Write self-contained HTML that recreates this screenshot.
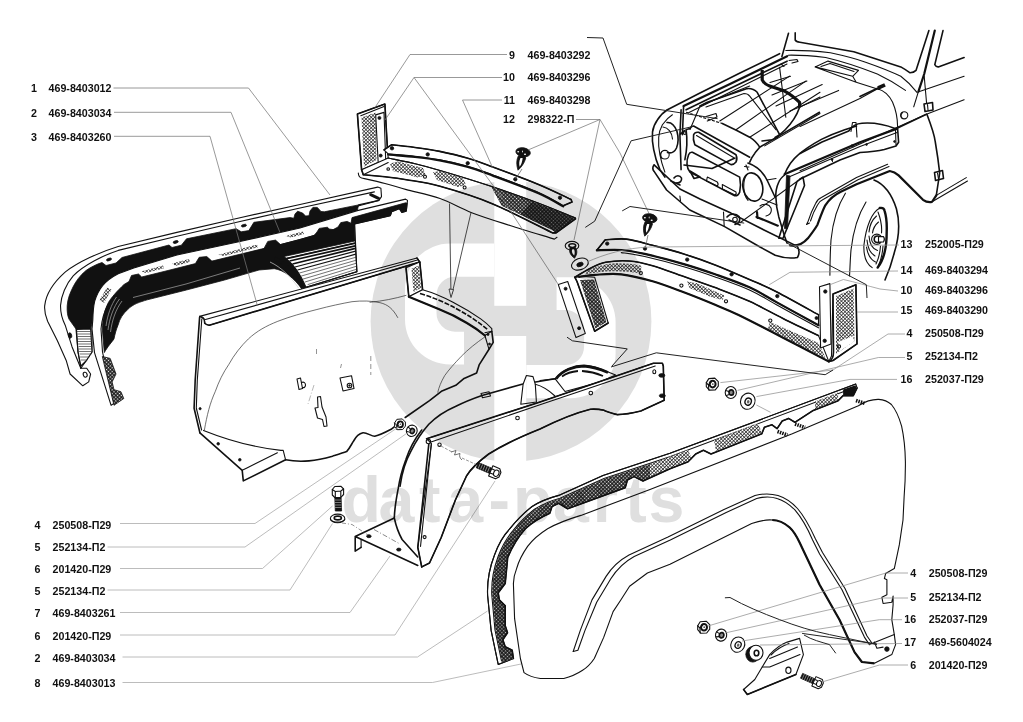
<!DOCTYPE html>
<html lang="ru"><head><meta charset="utf-8"><title>469 — Облицовка радиатора, крылья</title>
<style>
html,body{margin:0;padding:0;background:#fff;}
body{width:1023px;height:722px;overflow:hidden;font-family:"Liberation Sans",sans-serif;}
svg{display:block}
.lb{font-family:"Liberation Sans",sans-serif;font-weight:bold;font-size:10.7px;fill:#111;}
.ld{fill:none;stroke:#909090;stroke-width:0.75;}
.k{fill:none;stroke:#111;stroke-width:1.1;stroke-linejoin:round;stroke-linecap:round;}
.k2{fill:none;stroke:#111;stroke-width:1.6;stroke-linejoin:round;stroke-linecap:round;}
.k3{fill:none;stroke:#111;stroke-width:2.2;stroke-linejoin:round;stroke-linecap:round;}
.t{fill:none;stroke:#333;stroke-width:0.7;stroke-linejoin:round;stroke-linecap:round;}
.f{fill:#111;stroke:#111;stroke-width:0.8;stroke-linejoin:round;}
.w{fill:#fff;stroke:#111;stroke-width:1.1;stroke-linejoin:round;}
.wm{fill:#dfdfdf;}
</style></head><body>
<svg width="1023" height="722" viewBox="0 0 1023 722">
<defs>
<pattern id="mesh" width="2.500" height="2.500" patternUnits="userSpaceOnUse" patternTransform="rotate(45)">
<rect width="2.500" height="2.500" fill="#fff"/><path d="M0 0H2.500M0 0V2.500" stroke="#111" stroke-width="1.250"/></pattern>
<pattern id="meshd" width="2.6" height="2.6" patternUnits="userSpaceOnUse" patternTransform="rotate(45)">
<rect width="2.6" height="2.6" fill="#111"/><rect x="0.700" y="0.700" width="1.350" height="1.350" fill="#fff"/></pattern>
</defs>
<!-- 20_part1.svg -->
<g id="part1">
<!-- outer panel body (white) -->
<path class="w" stroke-width="1.4" d="M377.7 187.1 L380.9 188.3 L381.5 196.6 L378.9 200.4 L358 206 L300 229 L240 243 L176.9 257 L133.8 269 L118.2 275 L102.6 286.5 L94.7 301.2 L92 329 L92 352 L86 361 L80.8 368.2 L86.7 368.2 L90.6 374 L88.7 381.9 L82.8 385.8 L70.1 374 L66.2 360.4 L57.4 340.8 L47.6 321.3 C45 315 44.3 310 44.7 305.6 C46 294 54 282 65.4 271.9 C78 262 100 252 118.2 246.5 L176.9 232.4 L240 217.7 L300 204.5 Z"/>
<path class="k" d="M374.4 191.9 L300 208 L240 221.5 L176.9 236.2 L118.2 250.4 C104 255 84 265 73.2 275.8 C66 284 61 296 60.5 305.6 C60.5 314 62.5 320 65.2 325.2 L72 346.7 L80.8 368.2"/>
<path class="k" d="M378.9 200.4 L358.6 204.9"/>
<!-- first black band -->
<path class="f" d="M358.6 204.9 L324.3 211.8 L321 211.5 L317.3 207.4 L312.9 207.4 L310 211 L309 215.7 L305.5 216 L302.7 213.1 L297.6 211.2 L295 214 L293.8 218.2 L290 217.6 L253.9 222.3 L248.8 230.6 L241.2 231.8 L236.1 228.7 L186.5 238.8 L181.4 245.2 L172 247.5 L169 245 L122 257.5 L116 263 L106 265.5 L102 262.5 C96 264.5 91 267 86 270.5 C80 275.5 76 281 73 287 C70 293 67.6 299 67.2 305.6 C66.8 312 67.8 316.5 69.1 319.3 L76 329 L90.6 329 L92.8 320 C93 313 93.5 306 94.7 301.2 C96.5 295 99 290 102.6 285.6 C107 280.5 112 277 118.2 273.8 L133.8 268 L176.9 255 L240 241.5 L300 228 L357.3 210.6 Z"/>
<!-- slots -->
<ellipse cx="243.9" cy="225.6" rx="2.6" ry="1.2" transform="rotate(-13 243.9 225.6)" class="f"/>
<ellipse cx="175.7" cy="242" rx="2.6" ry="1.2" transform="rotate(-14 175.7 242)" class="f"/>
<ellipse cx="109" cy="259.5" rx="2.6" ry="1.2" transform="rotate(-18 109 259.5)" class="f"/>
<!-- hatch lower-left of band -->
<path class="w" stroke="none" d="M76.5 329.5 L90.6 329 L92 352 L86 361 L80.8 366 L78 352 Z"/>
<path class="t" d="M77 331.5H91M77.5 334H91M78 336.500H91M78 339H91.5M78.5 341.5H91.5M78.5 344H91.5M79 346.500H92M79 349H92M79.5 351.5H92M80 354H91M80.5 357H89M81 360H87"/>
<path class="k" d="M76 329 L78 352 L80.8 368.2"/>
<ellipse cx="70" cy="335.5" rx="1.7" ry="2.7" transform="rotate(-15 70 335.500)" class="f"/>
<ellipse cx="85.2" cy="374.7" rx="1.9" ry="2.5" transform="rotate(-20 85.2 374.7)" class="k"/>
<!-- pin at right end -->
<path d="M370.7 194.7 L378.5 198.3" stroke="#111" stroke-width="3" stroke-linecap="round" fill="none"/>
</g>
<g id="part2top">
<!-- seal strip 2 (white strip w/ mesh) -->
<path class="w" d="M405.6 199.1 L407.500 200.4 L406.3 211.2 L401.8 212.5 L399.3 208.7 L391.700 211.8 L390.4 215.7 L354.8 223.9 L300 239.5 L240 255.3 L176.9 271 L141.7 281 L124 288 C116 294 111 300 108.4 304 C104 312 101.500 322 101 329 L102.500 352 L114 403.4 L111.100 405.3 L94.500 352.6 L92 329 L92.8 320 C93 313 93.500 306 94.700 301.2 C96.500 295 99 290 102.6 285.600 C107 280.500 112 277 118.2 273.8 L133.8 268 L176.9 255 L240 241.500 L300 228 L357.300 210.600 Z"/>
<!-- dark side of right end -->
<path class="f" d="M405.6 202.800 L407.200 203.200 L406.3 211.2 L401.8 212.5 L399.3 208.7 L391.700 211.8 L390.4 215.7 L354.8 223.9 L351 223.300 L352 217.600 Z"/>
<!-- big black region under the strip -->
<path class="f" d="M354.6 223.900 L351 223.300 L347.2 221.400 L340.800 222.600 L338 227 L333.200 229.600 L329 229 L327.500 227.200 L319.200 228.400 L317 232 L314 235.5 L300 239.500 L280.500 244.600 L275.500 240.100 L267.800 241.400 L264 248.400 L211.900 261.100 L206.800 256.600 L199.200 257.300 L195.400 263.600 L170 270 L141.700 277 L138.500 274 L131.500 275.500 L129 281.500 L124 284.5 C117 291 111 298 108.400 302.500 C104 311 102.6 320 102.3 329 L104.3 352.600 C108 346 112 342 114 338.900 C115 334 116 330 118 325.200 C120 318 123 314 127.700 309.500 C133 304 140 302 147.300 299.800 L186.400 290 L224.6 280 L259 270 L274.2 268.7 C284 270 294 278 302.100 289.300 L306 287.300 C300 273 292 262 284 256.500 L355 241 Z"/>
<!-- hatched inner surface -->
<path class="w" stroke="none" d="M286 258.500 L355.300 243 L356.900 271.700 L306 287.300 C300 273 294 265 286 258.500 Z"/>
<path d="M286.500 258.6L355.200 243.200M289.5 261L355.300 245.800M292.5 264L355.4 248.400" fill="none" stroke="#111" stroke-width="1.700"/>
<path d="M295 267L355.600 251.200M297.500 270L355.800 254.200" fill="none" stroke="#111" stroke-width="1.200"/>
<path class="t" d="M299.5 273L356 257.200M301.500 276L356.200 260.200M303.300 279L356.400 263.200M305 282L356.600 266.200M308 284.5L356.700 269.200M330 280L356.800 271.500"/>
<path d="M274.700 258 C286 264 296 275 303 289" fill="none" stroke="#111" stroke-width="2.600"/>
<path d="M270 262 C281 267 291 277 298.500 288" fill="none" stroke="#ccc" stroke-width="0.700"/>
<path class="k" d="M354.600 223.900 L356.900 271.700 L306 287.300 L302.1 289.3"/>
<!-- highlight lines in the black -->
<path d="M122 301 C116 309 112 320 110.500 332M133 297.500 L186 284 L240 268" fill="none" stroke="#aaa" stroke-width="0.700"/><path d="M119.500 299 C113.500 307 109.500 318 108 330 M116.500 297 C111 305 107.500 315 106 326" fill="none" stroke="#999" stroke-width="0.800"/>
<!-- mesh patches on strip -->
<path d="M218.300 254.700 L257 244.600 L258 247.200 L224 256 Z M172 263.5 L189 259 L190 262 L175 266 Z M285.500 236 L303 231.500 L304 234 L291 237.500 Z M141 271.500 L163 265.500 L164 268.200 L146 273 Z M99.500 300 L107 287.500 L111.500 289.500 L104 303 Z" fill="url(#mesh)" stroke="none"/>
<!-- bottom bracket of seal -->
<path stroke="#111" stroke-width="0.800" fill="url(#meshd)" d="M102.300 356.500 L110.200 358.400 L116 374 L112.100 381.900 L114 389.700 L120.900 391.700 L123.800 398.500 L114 405.300 Z"/>
</g>

<!-- 30_part3.svg -->
<g id="part3">
<!-- top flange strip -->
<path class="w" d="M199.6 316.4 L417 258 L419.8 262.1 L209.3 325.2 L204.5 323.5 L204 319 Z"/>
<path class="k2" d="M209.3 325.2 L419.8 262.1"/>
<path class="k" d="M205.5 319.5 L417.5 260"/>
<path class="k" d="M199.600 316.4 C203 316.500 204.500 318.500 204.800 321.500 C205 324 206.500 325.300 209.300 325.200"/>
<!-- left edge -->
<path class="k2" d="M199.6 317.4 L195.200 380 L194.100 408.200 L199.900 432.800"/>
<path class="k" d="M201.800 319 L197.300 380 L196.300 408 L201.600 430"/>
<circle cx="200.100" cy="408.700" r="1.100" class="f"/>
<!-- bottom flange -->
<path class="k2" d="M199.900 432.800 L242.200 470.300 L243.300 480.900 L285.600 459.800"/>
<path class="k" d="M242.200 470.300 L246.900 468 L277.400 452.700 M283.200 450.400 L285.600 459.800 M203.500 430.400 C230 441 255 447.500 280.900 450.400 L283.2 450.4"/>
<circle cx="218.200" cy="443.800" r="1.300" class="f"/><circle cx="239.800" cy="459.800" r="1.300" class="f"/>
<!-- bottom wavy edge -->
<path class="k2" d="M285.600 459.800 C294 461.500 302 461.500 309 460.900 C318 460 326 458 332.500 456.200 C338 454.500 343 453 346.600 451.600 C350 448 351.500 444 353.600 441 C356 436.500 360 433.500 363 432.800 C367 432.500 371 436 374.700 436.300 C380 435 386 432 391.100 429.300 L395.800 425.700"/>
<path class="k2" d="M405.200 417.500 L429.500 400.600 L442 390.900 L455.800 385.300 L464.100 378.400 L476.600 372.900 L479.300 364.600 L489 349.300 L493.200 342.400 L491.800 331.300"/>
<!-- inner arch thin -->
<path class="t" d="M204.400 430 C207 415 210 403 215.200 391.700 C219 381 223 373 228.900 364.300 C234 355 241 346 248.400 338.900 C257 331 266 326 277.800 321.300 C290 316.500 303 313 316.900 309.500 C330 306 342 303.500 352 301.700 C362 300.500 372 300.800 380 302.700 C388 304.500 393 309 397.700 317.500"/>
<path class="t" d="M370 302.300 C383 301 395 298.500 406 295.400"/>
<path class="t" d="M484.900 336.900 C476 343 468 349.500 461.300 356.300 C454 364 449 369.500 444.700 375.600 C441 382 439 387 437.800 392.200"/>
<!-- upright mesh piece at top-right -->
<path class="w" d="M406 267.700 L419.800 262.100 L422.600 289.800 L408.800 296.700 Z"/>
<path d="M411.500 268.500 L419 265.500 L421 288 L413.500 292 Z" fill="url(#mesh)"/>
<path class="k2" d="M406 267.700 L408.800 296.700 M417 258 L419.800 262.100 L422.600 289.800"/>
<!-- curved strip -->
<path class="w" d="M408.800 296.700 L422.600 289.800 C434 293 444 297.500 453 302.300 C464 308 473 313.500 480.700 318.900 C485 322 489 325.500 491.800 328.600 L491.800 331.300 L484.900 335.500 C478 330 472 326 466.900 323 C458 317.500 449 313 439.200 309.200 Z"/>
<path class="k3" d="M408.800 296.700 L439.200 309.200 C449 313 458 317.500 466.900 323 C473 326.500 479 330.500 484.900 335.500"/>
<path d="M420 293.500 C434 297.500 446 303 456 308.500 C468 315 478 321.500 487.500 329.500" fill="none" stroke="#111" stroke-width="1.600" stroke-dasharray="5 1.500"/>
<path class="k" d="M484.900 332.700 L491.800 331.300 M484.900 335.500 L489 349.300"/>
<circle cx="488" cy="334.500" r="1" class="f"/><circle cx="489.500" cy="344" r="1" class="f"/>
<!-- small clips -->
<path class="k" d="M297 379 L300.500 378 L302.500 388.500 L299 389.500 Z M301.500 382.500 C304 381.500 305.500 383 305.500 385 C305.500 387 304 388 302.300 387.500"/>
<path class="k" d="M340 378 L351.500 375.700 L354 388.500 L343 391 Z"/><circle cx="349.500" cy="385.500" r="2.300" class="k"/><circle cx="349.500" cy="385.500" r="0.800" class="f"/>
<path class="k" d="M317.500 397 L320.500 396.500 L322 407 L326 417 L327 426 L324 426.500 L322.500 419.500 L317.500 418 L315 408 L318 407.500 Z"/>
</g>

<!-- 40_trim_top.svg -->
<g id="trimtop">
<!-- second offset outline (thin) -->
<path class="k" d="M358.300 173 C358.500 176 359.500 177.500 361.600 178  C365.5 178.9 377.5 181.6 385.0 183.5 C392.5 185.4 397.2 187.1 406.4 189.6 C415.6 192.1 429.1 194.8 440.0 198.6 C450.9 202.4 460.0 208.2 471.7 212.7 C483.4 217.2 496.2 221.1 510.0 225.5 C523.8 229.9 547.0 236.8 554.4 239.1 L557 237.300"/>
<!-- upright end piece -->
<path class="w" d="M357.400 114 L384.900 104.100 L387.300 146.400 L388.200 158 L361.600 169.700 Z"/>
<path d="M361.500 117.500 L375.500 112.500 L376.500 160 L364 166.500 Z" fill="url(#mesh)"/>
<path class="k2" d="M357.400 114 L384.900 104.100 L387.300 146.400 M357.400 114 L361.600 169.700"/>
<path class="k" d="M360.800 115.700 L384 106.600"/>
<!-- plate 10 -->
<path class="w" d="M375.700 114.900 L384 112.400 L385.700 159.700 L378.200 163 Z"/>
<circle cx="379.400" cy="117.900" r="1.500" class="f"/><circle cx="380.700" cy="155.600" r="1.500" class="f"/>
<!-- lower strip (part 9 main) body -->
<path class="w" d="M361.600 169.700 L388.200 158  C392.7 159.0 406.4 161.7 415.0 163.8 C423.6 165.9 427.3 166.8 440.0 170.5 C452.7 174.2 474.7 180.9 491.0 186.3 C507.3 191.7 523.9 197.7 538.0 203.0 C552.1 208.3 569.2 215.5 575.5 218.0 L575.500 218.900 L556.100 232.900 L552.600 232.900  C542.6 228.1 511.6 211.7 492.8 203.9 C474.0 196.1 454.4 190.3 440.0 186.3 C425.6 182.3 415.6 181.3 406.4 179.7 C397.2 178.1 392.2 177.6 385.0 176.8 C377.8 176.0 366.9 175.0 363.3 174.7 L361.600 169.700 Z"/>
<!-- mesh areas -->
<path d="M389.800 163.500 L398 161.500 L423 168 L426 175.500 L418 177.500 L393 171 Z M433 172.200 L441 170.800 L463 177.500 L466 185 L458 187 L437 180 Z" fill="url(#mesh)"/>
<path d="M491 186.300 L538 203 L575.500 218 L556.100 232.900 L552.600 230.300 L501.600 205.700 Z" fill="url(#meshd)"/>
<path d="M532 202 L575.500 218.400 L556.100 232.900 L552.600 230.300 L520 214.500 Z" fill="#111" opacity="0.550"/>
<path class="k2" d="M361.600 169.700 L363.300 174.700  C366.9 175.0 377.8 176.0 385.0 176.8 C392.2 177.6 397.2 178.1 406.4 179.7 C415.6 181.3 425.6 182.3 440.0 186.3 C454.4 190.3 474.0 196.1 492.8 203.9 C511.6 211.7 542.6 228.1 552.6 232.9 L556.100 232.900 L575.500 218.900"/>
<path class="k" d="M388.200 158  C392.7 159.0 406.4 161.7 415.0 163.8 C423.6 165.9 427.3 166.8 440.0 170.5 C452.7 174.2 474.7 180.9 491.0 186.3 C507.3 191.7 523.9 197.7 538.0 203.0 C552.1 208.3 569.2 215.5 575.5 218.0"/>
<path class="k" d="M363.300 174.700 L388.200 162.500"/>
<circle cx="388.200" cy="169" r="1.300" class="k"/><circle cx="425" cy="176.700" r="1.500" class="k"/><circle cx="464.600" cy="187.500" r="1.500" class="k"/>
<!-- upper strip (part 11) -->
<path class="w" d="M384 149.800 L391.500 144.800  C395.4 145.2 407.0 146.4 415.0 147.5 C423.0 148.6 431.0 149.7 439.7 151.4 C448.4 153.2 458.1 155.4 467.0 158.0 C475.9 160.6 480.9 162.6 492.8 167.0 C504.7 171.4 525.5 179.1 538.5 184.5 C551.5 189.9 565.7 197.0 571.1 199.5 L572 202.100 L563.200 205.700  C559.1 203.5 550.2 197.6 538.5 192.5 C526.8 187.4 504.7 179.3 492.8 174.9 C480.9 170.5 475.9 168.5 467.0 166.0 C458.1 163.5 448.4 161.3 439.7 159.7 C431.0 158.1 423.6 157.3 415.0 156.3 C406.4 155.3 392.7 154.3 388.2 153.9 Z"/>
<path class="k3" d="M388.200 154.500  C392.7 155.0 406.4 156.0 415.0 157.0 C423.6 158.0 431.0 158.8 439.7 160.4 C448.4 162.0 458.1 164.2 467.0 166.7 C475.9 169.2 480.9 171.2 492.8 175.6 C504.7 180.0 526.8 188.1 538.5 193.2 C550.2 198.3 559.1 204.2 563.2 206.4"/>
<path class="k2" d="M384 149.800 L391.500 144.800  C395.4 145.2 407.0 146.4 415.0 147.5 C423.0 148.6 431.0 149.7 439.7 151.4 C448.4 153.2 458.1 155.4 467.0 158.0 C475.9 160.6 480.9 162.6 492.8 167.0 C504.7 171.4 525.5 179.1 538.5 184.5 C551.5 189.9 565.7 197.0 571.1 199.5 L572 202.100 L563.200 205.700"/>
<circle cx="392" cy="148.300" r="1.700" class="f"/><circle cx="427.700" cy="154.400" r="1.700" class="f"/><circle cx="467.700" cy="163.200" r="1.700" class="f"/><circle cx="515.300" cy="179.300" r="1.700" class="f"/><circle cx="560" cy="197.700" r="1.700" class="f"/>
<!-- clip 12 (top) -->
<g id="clipA"><ellipse cx="523.100" cy="152.300" rx="7.300" ry="4.500" transform="rotate(10 523.100 152.300)" class="f"/><ellipse cx="518.200" cy="151.800" rx="1" ry="0.800" fill="#fff"/><ellipse cx="525" cy="154.200" rx="1.100" ry="0.700" fill="#fff"/><ellipse cx="522.500" cy="151.500" rx="0.500" ry="1" fill="#ddd"/>
<path d="M518.300 156 C516.300 160 516.300 165 518 170.200 C521.500 167 524.500 163 525.800 158 L524.500 156 Z" class="f"/><path d="M520.500 158 C519 161 519 164 519.600 166.800 C521.300 164.500 522.500 161 522.600 158 Z" fill="#fff"/></g>
</g>

<!-- 45_trim_right.svg -->
<g id="trimright">
<!-- left mesh leg of 15 -->
<path class="w" d="M574.900 277.300 L579.100 276.300 L594.700 277.300 L608.200 323 L594.700 331.300 L577 281.500 Z"/>
<path d="M580 280 L594 279.500 L606.500 322 L595.500 328.500 Z" fill="url(#meshd)"/>
<path class="k2" d="M574.900 277.300 L577 281.500 L594.700 331.300 L608.200 323"/>
<!-- front face of 15 -->
<path class="w" d="M574.9 277.3 C577.4 275.8 584.9 271.0 590.0 268.5 C595.1 266.0 599.1 263.6 605.6 262.3 C612.1 261.1 621.3 260.4 629.1 261.0 C636.9 261.6 643.5 263.1 652.6 265.7 C661.7 268.3 673.4 273.0 683.8 276.6 C694.2 280.2 704.1 283.4 715.1 287.6 C726.1 291.8 738.7 296.5 750.0 301.6 C761.3 306.8 771.6 312.8 783.0 318.5 C794.4 324.2 812.6 332.8 818.5 335.6 L828.9 361.6 C821.3 357.6 798.1 345.5 783.1 337.7 C768.1 329.9 749.9 320.5 738.6 315.0 C727.3 309.5 724.2 308.6 715.1 304.8 C706.0 301.0 694.2 296.2 683.8 292.3 C673.4 288.4 663.0 284.3 652.6 281.3 C642.2 278.3 630.9 275.4 621.3 274.3 C611.7 273.2 602.0 274.4 595.0 274.8 C588.0 275.2 581.8 276.5 579.1 276.8 Z"/>
<path d="M588 270.500 C596 266.500 604 264.300 612.400 263.500 C622 263 632 263.800 641.500 265.700 L640.500 273.500 C631 271.800 621 271 612.400 271.200 C604 271.500 594 272.500 585 274.300 Z" fill="url(#mesh)"/>
<path d="M687 281.500 L697 283.200 L724.600 295.500 L722.500 300 L711 297 L689.500 288 Z" fill="url(#mesh)"/>
<path d="M770 322 L818.500 343 L826 359 L783.100 336.700 L768 328.500 Z" fill="url(#mesh)"/>
<path class="k3" d="M579.1 276.8 C581.8 276.5 588.0 275.2 595.0 274.8 C602.0 274.4 611.7 273.2 621.3 274.3 C630.9 275.4 642.2 278.3 652.6 281.3 C663.0 284.3 673.4 288.4 683.8 292.3 C694.2 296.2 706.0 301.0 715.1 304.8 C724.2 308.6 727.3 309.5 738.6 315.0 C749.9 320.5 768.1 329.9 783.1 337.7 C798.1 345.5 821.3 357.6 828.9 361.6"/>
<path class="k2" d="M574.9 277.3 C577.4 275.8 584.9 271.0 590.0 268.5 C595.1 266.0 599.1 263.6 605.6 262.3 C612.1 261.1 621.3 260.4 629.1 261.0 C636.9 261.6 643.5 263.1 652.6 265.7 C661.7 268.3 673.4 273.0 683.8 276.6 C694.2 280.2 704.1 283.4 715.1 287.6 C726.1 291.8 738.7 296.5 750.0 301.6 C761.3 306.8 771.6 312.8 783.0 318.5 C794.4 324.2 812.6 332.8 818.5 335.6"/>
<circle cx="640.800" cy="273.100" r="1.600" class="k"/><circle cx="681.400" cy="285.600" r="1.600" class="k"/><circle cx="726" cy="301.300" r="1.600" class="k"/><circle cx="770.300" cy="320.600" r="1.600" class="k"/>
<!-- upper strip 14 -->
<path class="w" d="M605.1 239.9 C608.6 239.8 618.1 238.2 626.0 239.1 C633.9 240.0 643.0 242.8 652.6 245.3 C662.2 247.8 673.4 250.6 683.8 253.9 C694.2 257.2 704.1 260.6 715.1 264.9 C726.1 269.2 739.7 275.2 750.0 279.7 C760.3 284.2 765.5 286.1 776.9 292.0 C788.3 297.9 811.6 311.0 818.5 314.8 L818.5 325.2 C811.6 321.4 788.3 308.7 776.9 302.4 C765.5 296.1 760.3 292.3 750.0 287.6 C739.7 282.9 726.1 278.2 715.1 274.3 C704.1 270.4 695.5 267.5 683.8 264.1 C672.1 260.7 655.1 256.2 644.7 253.9 C634.3 251.6 629.3 250.6 621.3 250.0 C613.3 249.4 600.9 250.2 596.8 250.3 Z"/>
<path class="k3" d="M596.8 250.3 C600.9 250.2 613.3 249.4 621.3 250.0 C629.3 250.6 634.3 251.6 644.7 253.9 C655.1 256.2 672.1 260.7 683.8 264.1 C695.5 267.5 704.1 270.4 715.1 274.3 C726.1 278.2 739.7 282.9 750.0 287.6 C760.3 292.3 765.5 296.1 776.9 302.4 C788.3 308.7 811.6 321.4 818.5 325.2"/>
<path class="k2" d="M596.800 250.300 L605.100 239.900 L605.1 239.9 C608.6 239.8 618.1 238.2 626.0 239.1 C633.9 240.0 643.0 242.8 652.6 245.3 C662.2 247.8 673.4 250.6 683.8 253.9 C694.2 257.2 704.1 260.6 715.1 264.9 C726.1 269.2 739.7 275.2 750.0 279.7 C760.3 284.2 765.5 286.1 776.9 292.0 C788.3 297.9 811.6 311.0 818.5 314.8"/>
<path class="k" d="M621.3 252.6 C625.2 253.2 634.3 254.1 644.7 256.5 C655.1 258.9 672.1 263.3 683.8 266.7 C695.5 270.1 704.1 273.0 715.1 276.9 C726.1 280.8 739.7 285.5 750.0 290.2 C760.3 294.9 765.5 298.7 776.9 305.0 C788.3 311.3 811.6 324.0 818.5 327.8"/>
<circle cx="607.200" cy="243.600" r="1.700" class="f"/><circle cx="645" cy="248.600" r="1.700" class="f"/><circle cx="687.200" cy="259.600" r="1.700" class="f"/><circle cx="731.600" cy="274.300" r="1.700" class="f"/><circle cx="777.300" cy="296.100" r="1.700" class="f"/><circle cx="816.500" cy="318" r="1.500" class="f"/>
<!-- right mesh leg -->
<path class="w" d="M833 294 L855.900 284.700 L857 343.900 L833 360.500 L828.900 361.600 L831.500 356 Z"/>
<path d="M836 296 L853.500 288.500 L854.500 341 L836 354 Z" fill="url(#mesh)"/>
<path d="M838 342 L853 336 L854 341.500 L840 351 Z" fill="#fff"/>
<path class="k2" d="M833 294 L855.900 284.700 L857 343.900 L833 360.500 L828.900 361.600 M833 294 L833.500 352 C833.500 357 832 360 828.900 361.600"/>
<circle cx="839" cy="346.500" r="1.600" class="k"/>
<!-- right plate 10 -->
<path class="w" stroke-width="1.600" d="M819.500 286.800 L829.900 283.600 L831 343.900 L820.600 348 Z"/>
<circle cx="825.300" cy="291.500" r="1.700" class="f"/><circle cx="824.700" cy="340.800" r="1.700" class="f"/>
<!-- left plate 10 -->
<path class="w" stroke-width="1.600" d="M558.300 284.600 L567.700 281.500 L585.300 333.400 L576 337.600 Z"/>
<circle cx="565.600" cy="288.700" r="1.500" class="f"/><circle cx="579.100" cy="328.200" r="1.500" class="f"/>
<!-- clip (top of strip 14) -->
<g transform="translate(126.700 66)"><ellipse cx="523.100" cy="152.300" rx="7.300" ry="4.500" transform="rotate(10 523.100 152.300)" class="f"/><ellipse cx="518.200" cy="151.800" rx="1" ry="0.800" fill="#fff"/><ellipse cx="525" cy="154.200" rx="1.100" ry="0.700" fill="#fff"/><ellipse cx="522.500" cy="151.500" rx="0.500" ry="1" fill="#ddd"/>
<path d="M518.300 156 C516.300 160 516.300 165 518 170.200 C521.500 167 524.500 163 525.800 158 L524.500 156 Z" class="f"/><path d="M520.500 158 C519 161 519 164 519.600 166.800 C521.300 164.500 522.500 161 522.600 158 Z" fill="#fff"/></g>
<!-- small clip + washer at left -->
<ellipse cx="572" cy="245.800" rx="6.800" ry="4.400" class="w" stroke-width="1.800"/><ellipse cx="572.300" cy="245.600" rx="3.400" ry="1.900" class="k2"/>
<path class="f" d="M570 248 C568.800 251.500 570.200 255 574.500 258.200 C577.300 254.500 577.500 250.500 575.500 247.500 Z"/><path d="M572 249.500 C571.500 252 572.500 254 574.200 255.500 C575 253 574.800 251 574 249.200 Z" fill="#fff"/>
<ellipse cx="579.900" cy="264.100" rx="8.700" ry="5.600" transform="rotate(-20 579.900 264.100)" class="w" stroke-width="1.700"/><ellipse cx="580" cy="264.500" rx="3.300" ry="2" transform="rotate(-20 580 264.500)" class="f"/>
</g>

<!-- 50_car.svg -->
<g id="car">
<!-- windshield / cowl -->
<path class="k2" d="M788.500 33.300 L781.900 56.600 M795.200 32.900 L795.200 40 C796 41.500 797.500 42 799.900 42.300 L853.800 51.700 L900.800 66.900 C904.500 69 907.500 71 910.100 72.800 C912.500 72.800 914.500 72 916 70.400 L928.900 30.600"/>
<path class="k3" d="M934.800 30.600 L924.200 74 L918.400 91.600"/>
<path class="k2" d="M943 30.600 L934.800 64.600 C935.800 66.500 937 67 938.300 66.900 L964.100 57.500"/>
<path class="k" d="M785.800 50.500 C800 50 815 51 830.400 52.800 C843 55.500 855 58.500 865.600 62.200 C878 66.500 890 71 900.800 76.300 C907 81 912.500 86.500 917.200 92.700 M788.200 55.200 C800 55 813 56 825.700 57.500 C845 62 862 68 877.300 74 C888 79 897 84.500 905.500 90.400"/>
<path class="k" d="M919.500 91.600 L964.100 76.300 M918.400 91.600 L913.700 106.800 M924.200 76.300 L926.600 103.300"/>
<!-- cowl vent -->
<path class="k" d="M815.100 66.900 L828 61.100 L858.500 70.400 L852.700 76.300 Z M821 66.500 L830 63.500 L854 71.500 M852.700 76.300 L856.200 82.200 M815.100 66.900 L856.200 82.200 L879 89.500"/>
<!-- hood stay -->
<path class="k2" d="M859.900 96.500 L879 87.500"/><path d="M878 88 L885 84.800" stroke="#111" stroke-width="3.600" fill="none"/>
<!-- left fender top / hood left edge -->
<path class="k3" d="M683.600 106 L730 84 L787.100 56.200"/>
<path class="k2" d="M686.100 109.800 L730 88.500 L787.100 61.200 M667.400 109.800 L700 93 L740 73 L779.600 53.700"/>
<path class="k" d="M689 112.500 L787 64"/>
<!-- prop / thick black seal line -->
<path d="M762.200 69.900 L762.200 79.900 C764 83.500 766.500 85 769.600 86.100 L784.600 91.100 C790 94 795 98 799.600 102.300 L799.600 107.300" fill="none" stroke="#111" stroke-width="3.200" stroke-linejoin="round"/>
<path class="k" d="M781 64 L784 66.500 M789 60.500 L797 59.500 L798 61.500 L792 63"/>
<!-- engine bay hatch lines -->
<path class="k" d="M719.800 121 L789.600 76.100 M736 129.700 L805.800 81.100 M749.700 137.200 L820 92.300 M702.300 104.800 L749.700 86.100 M799.600 107.300 L820 97 M764.700 145.900 L820 113.500"/>
<path class="k" d="M779.600 67.400 L785.800 117.300 M770 82.500 L790.500 76.300 M772 95 L806.900 81 M776 106 L822.200 84.500 M790 111 L838.600 90.400"/>
<!-- inner hood panel -->
<path class="k2" d="M700 106 L707.300 102.300 L747.200 88.600 C751 88.300 754.500 89.500 757.200 92.300 L779.600 134.700 C778 137.500 775.500 139 772.100 139.700 L762 141"/>
<path class="k" d="M706 107 L744 93.500 C747 93.500 748.500 94.500 749.700 96.100 L775.900 129.700 M690 129.500 L700 106"/>
<!-- hood right lower edge -->
<path class="k2" d="M799.600 107.300 C797 115 792 123 785 130 C782 133 779 135.500 775 137.500"/>
<!-- hood front lip -->
<path class="k2" d="M683.600 106 L682.400 134.700 M722.300 123.500 C732 128 741 132.500 749.700 137.200 C754 140 757.500 143.500 759.700 147.200 C758 149.500 756 151.500 754.700 153.400 C752.500 156 751 159 749.700 162.100 M759.700 147.200 L819.500 112.300"/>
<path d="M686.100 112.300 L722.300 123.500" fill="none" stroke="#111" stroke-width="1.200" stroke-dasharray="3 1.500"/>
<path class="k" d="M706 116.500 L716 113.500 L717 117 L711 119.500 M707.300 121 L716 117.500"/>
<!-- front face outlines -->
<path class="k2" d="M667.400 109.800 C663 112.500 660 116 657.500 119.800 C654.500 124 653 128 652.500 132.200 C652 138 652.500 144 653.700 149.700 C655 157 657 163 659.900 169.600 L664.900 177.100"/>
<path class="k" d="M672.400 114.800 C668 117.500 665 121 662.400 124.700 C660 129 659 133 658.700 137.200 C658.300 143 658.700 149 659.900 154.700 C661 161 663 167 664.900 172.100"/>
<!-- left headlight -->
<path class="k2" d="M667 122.500 C671.500 122 675 126 677 131.500 C678.500 137 678.500 143 676.500 148 C674.500 152 671 153.500 667.500 152.500"/>
<path class="k" d="M663 127 C668 127.500 672 132 672.500 139"/>
<circle cx="664.900" cy="154.700" r="4.300" class="k"/><path class="k" d="M662 151.500 C660.300 153.500 660.300 156.500 662 158.500"/>
<!-- pillars between lamp and grille -->
<path class="k2" d="M681.100 109.800 L679.900 134.700 L681.100 169.600 M686.100 129.700 C687.500 140 687 150 684.900 159.700 M679.900 134.700 L684.500 130.500 M686.100 129.700 L689.900 128.500"/>
<circle cx="684.800" cy="133" r="1.400" class="k"/>
<!-- grille -->
<path class="k2" d="M689.900 128.500 C691 126.500 692.300 126 693.600 126 L749.700 157.200"/>
<path class="k2" d="M693.600 134.700 C694.500 132.500 696.500 132 698.600 132.300 L736 154.700 C737 157 737 160 736 162.100 C734.500 164 733 164.800 731 164.600 L694.800 144.700 C693.500 141.500 693 138 693.600 134.700 Z"/>
<path class="k" d="M696.500 135.500 L733.500 157.500"/>
<path class="k2" d="M688.600 154.700 C689.500 152.500 691 152 692.400 152.300 L739.700 177.100 C740.700 182 740.700 187 739.700 192.100 C738.500 195 737 196 734.700 195.800 L689.900 172.100 C686.500 168 686 161 688.600 154.700 Z"/>
<path class="k" d="M707.300 177.100 L717.300 182.100 C718.300 183.500 718.300 185 717.300 186 L706.500 181 Z M722.300 184.600 L736 192.100 C736.500 193.500 736 194.500 735 195 L722.500 189 Z"/>
<!-- tow hook / latch -->
<path class="k2" d="M674 178 C676 175 680 175 681.500 178 C682 181 680 183 677 183 M671 181 L680 185 M690 171 L700 177 L694 178.500 Z M684 165 L712 168.500 L735 158"/>
<!-- right headlight -->
<ellipse cx="752.800" cy="187" rx="9.800" ry="14.300" transform="rotate(-12 752.800 187)" class="k2"/>
<path class="k" d="M747 174.500 C742.500 180 742.500 194 748 200.500"/>
<path class="k" d="M746 165 L748 170 M744.500 166.500 L749 167"/>
<!-- face right contour -->
<path class="k2" d="M748 163.100 C756 166 763 172 767 180 L775 197"/>
<path class="k" d="M767 180 L776 178.500"/>
<!-- bumper -->
<path class="k2" d="M654.100 164.800 C652.500 167 652.500 169.500 654.100 171.400 L666.600 190 L689.800 210 L724.200 226.400 L760 247 L775.200 255.300 C783 258 791 258.500 797.400 257.500 C799.500 254 799.500 250 797.400 246.400 M654.100 164.800 L679.900 189 L700 199 L730.900 213.100 L764 230 L797.400 246.400"/>
<path class="k" d="M679.900 196 L680.500 201 M723.500 212 L724.200 226.400"/>
<path class="k2" d="M727 217 C730 213 736 213 739 216.500 C741 220 739 224 735 224.500 M729 220 L740 225"/><circle cx="735" cy="219.500" r="2.300" class="k"/>
<!-- right fender -->
<path class="k2" d="M784.600 174.300 C788 166 792 160 798.200 154.900 C805 149 813 144 821.400 139.400 C830 135 838 132 844.700 129.700 L856.500 126"/>
<path class="k3" d="M784.600 174.300 L860 142.300 L896.400 128.900"/>
<path class="k" d="M790 176.500 L860 146.500 L897 132.500"/>
<path class="k2" d="M784.600 175 C781 178 779.500 180 778.800 182 C776.500 187 775.500 192 775.900 197.500 C776 204 777 210 778.800 216.900 L784.600 236.300 L787 243"/>
<!-- dark narrow wedge (callout) -->
<path class="f" d="M786.500 175.300 L790 176 L787.500 228.600 L784.500 228.600 Z"/>
<path class="k2" d="M803 177.200 L804.500 185.500 L783 238.300 L778.800 238.300 L797 181.500 Z M797 181.500 L803 177.200"/>
<path class="k" d="M740 222.800 L796.200 182"/>
<!-- block under right headlamp -->
<path class="k3" d="M756.500 216.900 L777.800 225.700 M757 212 L757.500 218"/>
<path class="k" d="M760 206 C764 203 769 204 771 208 C772 212 770 215 766 216 M762 199 L777 205"/>
<!-- fender arch -->
<path class="k3" d="M790 245.500 C797 246.500 803 244 807.900 238.300 C812 233 815 229 817.500 224.700 C820 218 822 212 825.300 205.300 C829 199.500 834 195 840.800 191.700 L856.500 184.300 L889.800 171 C893 171.500 896 173 898.600 175.400 L923 199.800 C926 202 929 202.500 931.900 202 L936.300 195.400"/>
<path class="k" d="M810.500 221 C812.500 214.500 814.500 210 817.500 205 C819 202 821 200.300 823.500 199.300 L858 179.800 L889 166.500 M807.900 221.800 C810 215 812.500 209 815.600 203.400 C817 200.500 819 198.500 821.400 197.500 L856.500 177.600 L887.600 164.300 M807.900 221.800 L806.500 224.500 L809.500 223"/>
<path class="k" d="M936.300 195.400 L966.300 177.600 M932.500 201.500 L967.500 181"/>
<!-- inner fender seen in bay -->
<path class="k2" d="M800 153.500 L822 142 L848.700 131 C852 126 856 123.500 862 123.200 C872 122.500 884 124 895 128.600 L897.600 128.600 L898.600 142.200 L896 146 L884.300 149.500 C876 151.500 868 152 860 152.500 L840 160 L800 179"/>
<path class="k" d="M851 131.500 L852.500 122.500 L856 122.500 L857 137 M852 144.500 L853 147 M832 159 L832.500 161.500 M895.500 130 L896 145"/>
<circle cx="894.500" cy="141.500" r="0.900" class="f"/><circle cx="866.500" cy="144.500" r="0.900" class="f"/><circle cx="832" cy="159.500" r="0.900" class="f"/>
<!-- body side lines -->
<path class="k" d="M800 126.400 L859.900 98.500 L877.600 88.700 C884 90.500 889 95 892.500 102 C896 110 897.500 119 897.600 126.400"/>
<path class="k" d="M800 170.800 L926.400 114.200 L964.100 99.800"/>
<path class="k2" d="M926.400 114.200 L897.600 128"/>
<circle cx="904.200" cy="115.300" r="3.600" class="k"/><path class="k" d="M902.500 112.500 C900.500 114.500 900.500 117 902.500 118.500"/>
<path class="k2" d="M924 104 L932.500 102.500 L933 110 L925 111.500 Z"/><path class="k" d="M927.500 104.500 L928 110"/>
<path class="k2" d="M927 114.500 C931 125 934.500 135 935.300 142 C937 152 938.500 162 939.700 173 L936.300 195.400"/>
<path class="k2" d="M934.500 172.500 L942.500 170.500 L943.500 178.500 L935.500 180.500 Z"/><path class="k" d="M937.500 173 L938.500 179"/>
<!-- wheel -->
<path class="k2" d="M874 180 C884 184 892 195 896.400 208.700 C900 222 899 238 894.200 253 C892 262 889 271 885 280"/>
<path class="k" d="M845.400 193.200 C838 205 833 220 831 240 C830 255 830 265 829.900 275.200 M866 202 C858 215 853 232 851 250 C850 262 850 270 849.500 276"/>
<path class="k" d="M879.800 208 C872 212 866 226 863.900 245.400 C863.500 256 866.500 264 872.200 267.600"/>
<path d="M879.800 208 C883 207.500 884.300 209 884.600 210.800 C886.500 217 887 224 886.700 231.600 C886.700 240 886 247 884.600 252.300 C883 259 880.500 264 877.700 267.600" fill="none" stroke="#111" stroke-width="2.400" stroke-linecap="round"/>
<path class="k" d="M878 212 C881 220 882 228 881.500 233 M876.500 216 C872 220 869.500 226 869 232 M878.500 222 C875 225 873 229 872.500 233 M867 240 C867.500 247 870 253 875 256 M866.500 247 C867.500 254 870.500 259.500 875.500 262 M869 236 C869.500 243 872.500 249 877.500 250.500 M880.500 246 C880 253 878.500 259 876 264 M883 246 C882.500 254 881 260 878.500 265.500"/>
<circle cx="876.800" cy="239.300" r="5.200" class="k"/><circle cx="877.500" cy="239.300" r="3.300" class="k2"/>
<path class="w" stroke-width="1.400" d="M878.500 236.600 L883.500 236.600 C884.500 238 884.500 240.500 883.500 242 L878.500 242 Z"/>
</g>

<!-- 60_part7.svg -->
<g id="part7">
<!-- back panel curve (upper-left) -->
<path class="k2" d="M400 486.300 C402 472 406 460 411.100 450.900 C416 441 422 432 428.800 424.300 C436 417 445 411 455.400 406.500 C464 402 473 398.500 482 395.400 L522 384.300 L555.200 378.800"/>
<path class="k" d="M481 393.500 L489 391.800 L490.500 396 L482.500 397.800 Z"/>
<!-- upright tab -->
<path class="w" d="M520.800 404.300 L523.100 384.300 L526.400 375.500 L533 376.600 L535.300 384.300 L536.400 402 Z"/>
<path class="k" d="M535.300 384.300 C542 386 549 390.500 555 396"/>
<!-- hump -->
<path class="w" d="M555.200 378.800 C559 374 563 371 568.500 368.800 C574 366.500 580 365.500 584 365.500 C590 365.500 595 367 600 368.800 L615.600 375 L600 382.100 L565 391.500 Z"/>
<path d="M556.200 378.600 C560 373.500 563 371.500 568.500 369.200 C574 367 580 366 584 366 C592 366.500 600 369 608 372.500" fill="none" stroke="#111" stroke-width="2.800"/>
<path d="M562 376.500 C566 373.500 572 371.500 578 371 M582 371 C590 371.500 597 373.500 603 376" fill="none" stroke="#111" stroke-width="1.800"/>
<path class="k" d="M540 380.500 L556.200 378.600"/>
<!-- top long bar + right plate -->
<path class="w" d="M426.600 438.700 L540 402 L653.400 363.300 L662.400 363.300 L663.300 366 L664.200 400.200 L640.800 411 C633 413 625 414.500 617.400 414.600 C612 413.500 607 411.500 603 410.100 C599 409 595 409 590.400 409.200 C575 413 558 420 540 429 C520 437 503 445 488.700 454 C478 462 470 470 466.500 476 L455.400 500 L441.200 537.500 L429.500 563 L421.700 566.900 L417.800 547.300 L431.400 443.700 Z"/>
<path class="k2" d="M426.600 438.700 L540 402 L653.400 363.300 L662.400 363.300 L663.300 366 L664.200 400.200 L640.800 411 C633 413 625 414.500 617.400 414.600 C612 413.500 607 411.500 603 410.100 C599 409 595 409 590.400 409.200 C575 413 558 420 540 429 C520 437 503 445 488.700 454 C478 462 470 470 466.500 476 L455.400 500 L441.200 537.500 L429.500 563 L421.700 566.900"/>
<path class="k" d="M431 442 L540 404.700 L655.200 366"/>
<circle cx="428.400" cy="441.600" r="2.200" class="k"/><circle cx="439.500" cy="444.700" r="1.700" class="k"/>
<circle cx="517.500" cy="418" r="1.800" class="k"/><circle cx="590.800" cy="393.100" r="1.800" class="k"/><ellipse cx="654.300" cy="371.800" rx="1.500" ry="2" class="k"/>
<ellipse cx="661.800" cy="375.400" rx="3" ry="1.800" class="f"/><ellipse cx="662.300" cy="395.700" rx="3" ry="1.800" class="f"/>
<!-- left vertical edge (double) -->
<path class="k2" d="M428.800 444.200 L417.800 547.300 L421.700 566.900"/>
<path class="k" d="M431.400 443.700 L420.500 546.500"/>
<circle cx="424.600" cy="537.100" r="1.500" class="k"/>
<!-- back curve lower -->
<path class="k2" d="M421.700 430 C414 440 409 450 406 459.300 C402 470 399.500 480 398.200 488.700 C396 500 394.500 510 394.300 518 C396 526 398.500 533 402.100 539.500 L417.800 557"/>
<!-- bottom flange -->
<path class="k2" d="M394.300 518 L355.200 536.500 L355.200 551.200 L361.100 547.300 M355.200 536.500 L417.800 565.500"/>
<path class="k" d="M361.100 547.300 L361.100 540"/>
<ellipse cx="368.900" cy="536.200" rx="2.200" ry="1.500" class="f"/><ellipse cx="398.800" cy="549.600" rx="2.200" ry="1.500" class="f"/>
<path d="M374 529.500 L400 544" fill="none" stroke="#555" stroke-width="0.700" stroke-dasharray="5 2 1 2"/>
</g>

<!-- 65_hardware.svg -->
<g id="hardware">
<defs>
<g id="nut"><path d="M-6 -1.500 L-3.500 -5.500 L2.500 -6 L6 -2.500 L6 2 L3 5.800 L-3 6 L-6 2.500 Z" class="w" stroke-width="2"/><ellipse cx="0.300" cy="0" rx="3" ry="3.300" fill="none" stroke="#111" stroke-width="2"/><circle cx="0.500" cy="0" r="0.900" fill="#555"/><path class="k" d="M-6 -1.500 L-3.800 1 L-3.500 5.800 M-3.800 1 L-1 -2"/></g>
<g id="lockw"><ellipse cx="0" cy="0" rx="5.600" ry="6" class="w" stroke-width="2.600"/><ellipse cx="0.500" cy="0" rx="2.300" ry="2.700" fill="#888" stroke="#111" stroke-width="1.700"/><path class="k" d="M-5 -2 L-2 -1 M-4.500 3 L-1.500 2"/></g>
<g id="flatw"><ellipse cx="0" cy="0" rx="7.200" ry="8.200" class="w" stroke-width="1.700"/><ellipse cx="0.500" cy="0.300" rx="3.100" ry="3.600" fill="#fff" stroke="#111" stroke-width="1.400"/><ellipse cx="0.600" cy="0.400" rx="1.300" ry="1.700" fill="#666"/></g>
<g id="bolt"><path d="M0 -2.800 L14.500 -2.800 L14.500 2.800 L0 2.800 Z" class="f"/><path d="M2 -2.800V2.800M4.500 -2.800V2.800M7 -2.800V2.800M9.500 -2.800V2.800M12 -2.800V2.800" stroke="#aaa" stroke-width="0.700"/><path d="M14.500 -5.500 L22 -5.500 L24.500 -2.500 L24.500 2.500 L22 5.500 L14.500 5.500 Z" class="w" stroke-width="1.500"/><ellipse cx="20.500" cy="0" rx="2.600" ry="3.300" class="k"/><path class="k" d="M14.500 -2.200H17.500M14.500 2.200H17.500"/></g>
</defs>
<!-- nuts by part 3 -->
<use href="#nut" transform="translate(400 424.300) scale(0.900)"/>
<use href="#lockw" transform="translate(411.800 430.800) rotate(25) scale(0.950)"/>
<!-- bolt + washer left of bracket -->
<g transform="translate(337.800 488.500)"><path d="M-5.500 1 L-3 -2 L3 -2.300 L5.800 0.500 L5.800 6 L3 8.800 L-3 9 L-5.500 6.500 Z" class="w" stroke-width="1.500"/><path class="k" d="M-5.500 1 L-2.500 3 L3 2.500 L5.800 0.500 M-2.500 3 V8.800 M3 2.500 V8.800"/><path d="M-3 9 L3.300 9 L3.800 22.500 L-2.500 22.500 Z" class="f"/><path d="M-3 11.500H3.500M-3 14H3.500M-2.800 16.500H3.600M-2.700 19H3.700" stroke="#aaa" stroke-width="0.700"/></g>
<ellipse cx="337.600" cy="518.400" rx="7.200" ry="4.300" class="w" stroke-width="1.800"/><ellipse cx="337.800" cy="518" rx="3.600" ry="1.900" class="k2"/><path class="k" d="M330.500 519.500 C333 523 342 523 344.800 519.500"/>
<!-- bolt right of bracket -->
<use href="#bolt" transform="translate(477.400 465.200) rotate(23)"/>
<!-- nut/washers upper right -->
<use href="#nut" transform="translate(712.300 384.100)"/>
<use href="#lockw" transform="translate(730.800 392.500)"/>
<use href="#flatw" transform="translate(747.800 401.200) rotate(20)"/>
<!-- lower hardware -->
<use href="#nut" transform="translate(703.700 627.200)"/>
<use href="#lockw" transform="translate(721.100 635.100) rotate(15)"/>
<use href="#flatw" transform="translate(737.800 644.600) rotate(25) scale(0.950)"/>
<g transform="translate(754.800 653.300)"><ellipse cx="-2" cy="1" rx="7" ry="7.800" class="f"/><ellipse cx="1.200" cy="-0.500" rx="7" ry="7.600" class="w" stroke-width="1.600"/><ellipse cx="1.700" cy="-0.300" rx="2.300" ry="2.800" class="k2"/></g>
<!-- bracket 17 -->
<path class="w" stroke-width="1.500" d="M743.600 689.500 L754.800 679.500 L762.200 667 L769.700 654.600 C776 648 782 644 787.200 642.100 L799.600 638.400 L803.400 654.600 L795.900 674.500 L747.300 694.500 Z"/>
<path class="k2" d="M743.600 689.500 L747.300 694.500 L795.900 674.500"/>
<path class="k" d="M769.700 658.500 L797.500 647 M769.700 667 L800 654.500 M762.200 667 L769.700 667 M771 655 C777 649 783 645.500 789 643.500"/>
<ellipse cx="788.400" cy="670.300" rx="2.600" ry="3.200" class="k"/>
<!-- bolt bottom -->
<use href="#bolt" transform="translate(801.600 675.800) rotate(24) scale(0.930)"/>
</g>

<!-- 70_fender.svg -->
<g id="fender">
<!-- fender body -->
<path class="w" stroke-width="1.700" d="M650 489.600 L792.300 433.700 L858.400 405.700 C866 401 872 399.200 878.700 399.400 C884 399.800 888 401.500 891.400 404.500 C896 410 899 417 901.600 426.100 C904 437 905.200 449 905.400 461.700 C905.500 474 905 486 904.100 497.200 L903 520 L899.300 544.900 L894.300 568.600 L885.600 573.600 L884.400 578.600 L886.900 579.800 L886.900 594.800 L881.900 597.300 L883.100 603.500 L891.800 602.200 L893.100 596 L893.100 604.700 L891.800 619.700 L894.300 634.600 L895.600 644.600 L891.800 654.600 L874.400 663.300 L861.900 662 L854.500 652.100 L839.500 619.700 L819.600 584.800 L799.600 542.400 C796 535 793 530.500 789.700 527.500 C784 522.500 778 520 772.200 520 C766 519.500 759 521 751.700 523.500 L718.600 540 L670 564.200 L647.400 573 L629.600 586.300 L620.800 600 L613.100 611.600 L603.700 637.400 L594.300 658.500 C591 663.500 587 667.500 582.600 670.300 C577 674 570 677 563.800 678.500 L540.400 678.500 C533 677.500 528 675.500 524 672.600 L520.400 658.500 L514.600 618.700 L513.400 583.500 C513.500 577 515 572.500 516.600 568.600 C519 560 523 553 527.600 546.400 C533 539 540 533.500 547.600 528.700 C558 523 569 519 580.900 515.400 Z"/>
<path d="M772.200 520 C778 520 784 522.500 789.700 527.500 C793 530.500 796 535 799.600 542.400 L819.600 584.800 L839.500 619.700 L854.500 652.100 L861.900 662 L874.400 663.300" fill="none" stroke="#111" stroke-width="2.200" stroke-linejoin="round"/>
<!-- arch moulding lines -->
<path class="k" d="M573.200 651.500 L577.900 650.300 L585 630.400 L596.700 602.200 L610.800 578.800 C617 569 624 562 634.200 556.500 L670.300 540 L726.200 512.500 L756.700 498.500 C764 496.500 771 496.500 777.100 498.500 C784 500.500 790 505 794.900 509.900 C801 517 807 527 812.600 540 L819.600 554 L842 589.800 L864.400 637.100 L869.400 644.600"/>
<path class="k" d="M573.200 651.500 L580.300 630.400 L592 599.900 L606.100 576.400 C612 567 619 560.500 629 555 L668 537 L724 509.500 L755 495.500 C763 493.500 771 493.500 778 495.500 C786 498 792 502.500 797.500 508.500 C804 516 810 527 815.500 539 L822.500 552.500 L845 588.500 L867 636 L871.500 642.500"/>
<path class="k" d="M869.400 644.600 L894.300 634.600 M874.400 642.100 L876.900 648.300 L883.100 647.100"/>
<circle cx="886.900" cy="649.100" r="2.300" class="f"/>
<!-- seal (part 2 second instance) -->
<path class="w" stroke-width="1.400" d="M855.800 384.100 L857.100 388 L853.300 395.600 L843.100 395.600 L838.100 400.700 L812.600 410.800 L794.900 422.300 L788.500 418.400 L782.200 421 L777.100 428.600 L772 424.800 L764.400 427.300 L761.800 433.700 L711 454 L703.400 450.200 L695.700 454 L688.100 461.700 L670 468.800 L643 481 L634 476.600 L627.400 480 L625.200 487.700 L567.600 508.700 L558.700 503.200 L552 506.500 L549.800 513.200 C540 517.500 532 522.500 525.400 528.700 C518 537 512 547 507.700 557.500 L503.300 581.900 L507.500 560 L505.200 583.500 L498.200 592.800 L499.300 599.900 L505.200 605.700 L505.200 625.700 L507.500 632.700 L502.800 639.800 L505.200 646.800 L512.200 650.300 L513.400 658.500 L498.200 664.400 L491.100 630.400 L487.600 595.200 C487 582 489.500 568 494.400 555.300 C498 545 503 536 509.900 528.700 C516 521 523 513.500 532.100 506.500 C540 501.500 549 498 558.700 495.400 L603 475.500 L670 453.300 Z"/>
<path class="k" stroke-width="1.300" d="M855.800 384.100 L670 453.300 L603 475.500 L558.700 495.400 C549 498 540 501.500 532.100 506.500 C523 513.500 516 521 509.900 528.700 C503 536 498 545 494.400 555.300 C489.500 568 487 582 487.600 595.200 L491.100 630.400 L498.200 664.400 L513.400 658.500"/>
<path class="k" d="M855.300 387.300 L670.500 456.500 L604 478.500 L560 498.300 C550 501 542 504.500 534.500 509.300 C526 516 519 523 513 530.700 C506.500 538 502 546.500 498.200 556.300 C493.500 569 491.200 582 491.800 595 L495 630 L501.500 661"/>
<!-- mesh band (dark) -->
<path d="M670 457.500 L670 468.800 L643 481 L634 476.600 L627.400 480 L625.200 487.700 L567.600 508.700 L558.700 503.200 L552 506.500 L549.800 513.200 C540 517.500 532 522.500 525.400 528.700 C518 537 512 547 507.700 557.500 L505.200 583.500 L498.200 592.800 L499.300 599.900 L505.200 605.700 L505.200 625.700 L507.500 632.700 L502.800 639.800 L505.200 646.800 L512.200 650.300 L513.400 658.500 L502 662.300 L495.500 630 L492.300 595 C491.700 582 494 569 498.700 556.500 C502.500 546.700 507 538.200 513.500 531 C519.500 523.300 526.500 516.300 535 509.600 C542.500 504.800 550.500 501.300 560.500 498.600 L604.500 478.800 Z" fill="url(#meshd)"/>
<path d="M525.400 528.700 C518 537 512 547 507.700 557.500 L505.200 583.500 L498.200 592.800 L499.300 599.900 L505.200 605.700 L505.200 625.700 L507.500 632.700 L502.800 639.800 L505.200 646.800 L512.200 650.300 L513.400 658.500 L502 662.300 L495.500 630 L492.300 595 C491.700 582 494 569 498.700 556.500 C502.500 546.700 507 538.200 513.500 531 Z" fill="#111" opacity="0.250"/>
<path d="M650 464.500 L688.100 449.800 L692 459.500 L672 468 L650 477 Z M714 440.500 L758 423 L761.800 432.500 L716 451 Z M815 401.500 L838.100 392.600 L838.100 400.700 L815 409.800 Z" fill="url(#mesh)"/>
<path d="M843.100 389.500 L855.500 385.200 L856.500 388 L853.300 395.600 L843.100 395.600 Z" fill="#111"/>
<path class="k2" d="M857.100 388 L853.300 395.600 L843.100 395.600 L838.100 400.700 L812.600 410.800 L794.900 422.300 L788.500 418.400 L782.200 421 L777.100 428.600 L772 424.800 L764.400 427.300 L761.800 433.700 L711 454 L703.400 450.200 L695.700 454 L688.100 461.700 L670 468.800 L643 481 L634 476.600 L627.400 480 L625.200 487.700 L567.600 508.700 L558.700 503.200 L552 506.500 L549.800 513.200 C540 517.500 532 522.500 525.400 528.700 C518 537 512 547 507.700 557.500 L505.200 583.500 L498.200 592.800 L499.300 599.900 L505.200 605.700 L505.200 625.700 L507.500 632.700 L502.800 639.800 L505.200 646.800 L512.200 650.300 L513.400 658.500"/>
<!-- studs -->
<path d="M777.500 431.500 L787.500 435 M795 424 L805 427.500 M856 400.500 L865 403.500" stroke="#111" stroke-width="3.600" stroke-dasharray="1.500 1" fill="none"/>
</g>

<!-- 80_leaders.svg -->
<g id="leaders" class="ld">
<g stroke="#777">
<path d="M113.500 88 H248.500 L330 195"/>
<path d="M114 112.300 H231 L280 232.500"/>
<path d="M114 136.300 H210 L257.500 306"/>
<!-- top 9-12 -->
<path d="M507 54.500 H410 L375 107.500"/>
<path d="M502 77.500 H414 L385 120 M414 77.500 L500 195 L558 284"/>
<path d="M502 100 H462.500 L492.500 167.500"/>
<path d="M576 119.500 H600 L528 150 M600 119.500 L583.700 195 L574 240 M600 119.500 L620 153 L648.800 213"/>
</g>
<!-- right labels -->
<path d="M899 245 L650 247 C625 248 605 254 587 262"/>
<path d="M898 271 L790 272.300 L769.300 284.700"/>
<path d="M898 291 L880 289 C868 286 855 282 843.400 279.500 L830 284.700"/>
<path d="M898 312 H857"/>
<path d="M905 334 H888 L833 370 L720.400 382.600"/>
<path d="M905 357.500 H878.400 L737.600 390.400"/>
<path d="M897 379.400 H850 L756.400 396.600 M756.400 405 L770.500 412.300"/>
<!-- lower right labels -->
<path d="M908 573 H886 L708 626"/>
<path d="M908 598 H882 L725 633"/>
<path d="M902 619.700 H879.400 L742 641"/>
<path d="M902 643.500 L760 645"/>
<path d="M908 665 H879.400 L822 682"/>
<g stroke="#a6a6a6">
<path d="M120 523.500 H255 L400 426"/>
<path d="M107.500 547 H245 L410 431"/>
<path d="M120 568.500 H262.500 L332.500 506"/>
<path d="M107.500 590 H290 L332.500 523.500"/>
<path d="M120 612.500 H350 L390 556"/>
<path d="M120 635 H395 L495 481"/>
<path d="M122.500 657 H417.500 L487.500 611"/>
<path d="M122.500 682.500 H432.500 L521 664"/>
</g>
</g>
<g id="callouts" fill="none" stroke="#222" stroke-width="1">
<path d="M587 37.500 L603 38 L626.700 104.300 L717.600 118.700"/>
<path d="M693.200 126.400 L631.100 140.800 L594.700 221.200 L585.300 227.400"/>
<path d="M622.200 210.900 L630 206.500 L744.200 223.100"/>
<path d="M787 243 L866.300 284.700 L867 298"/>
<path d="M567 337.200 L572.400 340.800 L627.300 348.900 L612 366" />
<path d="M611 367 L656.300 352.800 L825.200 374.700 L833 370"/>
<path d="M449.500 203.500 L451 296 M471 212.500 L452 294" stroke-width="0.800"/>
<path d="M449 289 L451 297.500 L453.500 289.500 Z" fill="#fff" stroke-width="0.800"/>
<path d="M724.900 597.800 L730 597.500 C745 606 762 613 779.700 619.700 C796 626 812 631 829.500 634.600 L876.900 644.600 M802.100 633.400 L876.900 644 M804 635 C812 640 821 642 829.500 644.600 L835.800 653.300"/>
</g>

<!-- 85_minor.svg -->
<g id="minor" fill="none" stroke="#666" stroke-width="0.700">
<path d="M342 523 L352 524.500 L368 535" stroke-dasharray="4 2 1 2"/>
<path d="M441 446 L452 452" stroke-dasharray="3 1.500"/>
<path d="M451 452 L456 450.500 L454.500 455 L460 453.500 C459 456 460 458.500 462 460" stroke="#333"/>
<path d="M462 458 L476 464.500" stroke-dasharray="3 1.500"/>
<path d="M316.500 349 L316.500 354 M341.500 364 L340.500 368 M370.800 356 L370.800 375" stroke-dasharray="5 3"/>
<path d="M314 385 L308 404" stroke-dasharray="6 2 1 2" stroke="#999"/>
<path d="M522 169 L515.500 179" stroke="#555"/>
<path d="M648 235 L645.500 247" stroke="#555"/>
</g>

<!-- 90_labels.svg -->
<g class="lb">
<text x="31" y="92">1</text><text x="48.5" y="92">469-8403012</text>
<text x="31" y="117">2</text><text x="48.5" y="117">469-8403034</text>
<text x="31" y="141">3</text><text x="48.5" y="141">469-8403260</text>
<text x="34.5" y="528.7">4</text><text x="52.5" y="528.7">250508-П29</text>
<text x="34.5" y="550.7">5</text><text x="52.5" y="550.7">252134-П2</text>
<text x="34.5" y="573">6</text><text x="52.5" y="573">201420-П29</text>
<text x="34.5" y="594.5">5</text><text x="52.5" y="594.5">252134-П2</text>
<text x="34.5" y="616.7">7</text><text x="52.5" y="616.7">469-8403261</text>
<text x="34.5" y="640">6</text><text x="52.5" y="640">201420-П29</text>
<text x="34.5" y="662">2</text><text x="52.5" y="662">469-8403034</text>
<text x="34.5" y="687">8</text><text x="52.5" y="687">469-8403013</text>
<text x="515" y="59.2" text-anchor="end">9</text><text x="527.5" y="59.2">469-8403292</text>
<text x="515" y="80.7" text-anchor="end">10</text><text x="527.5" y="80.7">469-8403296</text>
<text x="515" y="103.5" text-anchor="end">11</text><text x="527.5" y="103.5">469-8403298</text>
<text x="515" y="123.2" text-anchor="end">12</text><text x="527.5" y="123.2">298322-П</text>
<text x="912.5" y="248.2" text-anchor="end">13</text><text x="925" y="248.2">252005-П29</text>
<text x="912.5" y="274.2" text-anchor="end">14</text><text x="925" y="274.2">469-8403294</text>
<text x="912.5" y="294" text-anchor="end">10</text><text x="925" y="294">469-8403296</text>
<text x="912.5" y="313.5" text-anchor="end">15</text><text x="925" y="313.5">469-8403290</text>
<text x="912.5" y="337" text-anchor="end">4</text><text x="925" y="337">250508-П29</text>
<text x="912.5" y="360" text-anchor="end">5</text><text x="925" y="360">252134-П2</text>
<text x="912.5" y="382.5" text-anchor="end">16</text><text x="925" y="382.5">252037-П29</text>
<text x="916.2" y="576.7" text-anchor="end">4</text><text x="928.7" y="576.7">250508-П29</text>
<text x="916.2" y="601.2" text-anchor="end">5</text><text x="928.7" y="601.2">252134-П2</text>
<text x="916.2" y="623.2" text-anchor="end">16</text><text x="928.7" y="623.2">252037-П29</text>
<text x="916.2" y="646.2" text-anchor="end">17</text><text x="928.7" y="646.2">469-5604024</text>
<text x="916.2" y="668.7" text-anchor="end">6</text><text x="928.7" y="668.7">201420-П29</text>
</g>

<!-- 95_watermark.svg -->
<g id="watermark" style="mix-blend-mode:multiply">
<circle cx="511" cy="321.300" r="140.400" class="wm"/>
<!-- white stem (upper and lower) -->
<rect x="494.3" y="170" width="31.9" height="135.8" fill="#fff"/>
<rect x="494.3" y="336" width="31.9" height="140" fill="#fff"/>
<!-- d : white C -->
<path d="M494.3 243.5H450A45 45 0 0 0 405 288.5V319.5A45 45 0 0 0 450 364.5H464V331.7H455A18.5 18.5 0 0 1 436.5 313.2V295.2A18.5 18.5 0 0 1 455 276.7H494.3Z" fill="#fff"/>
<!-- p : white C (point symmetric) -->
<path d="M526.3 398.3H570.6A45 45 0 0 0 615.6 353.3V322.3A45 45 0 0 0 570.6 277.3H556.6V310.1H565.6A18.5 18.5 0 0 1 584.1 328.6V346.6A18.5 18.5 0 0 1 565.6 365.1H526.3Z" fill="#fff"/>
<text x="341.4 378.4 418.9 447.2 488.5 513.1 553 592.8 625.3 648.6" y="522" font-family="'Liberation Sans',sans-serif" font-weight="bold" font-size="64.5" class="wm">data-parts</text>
</g>

</svg></body></html>
